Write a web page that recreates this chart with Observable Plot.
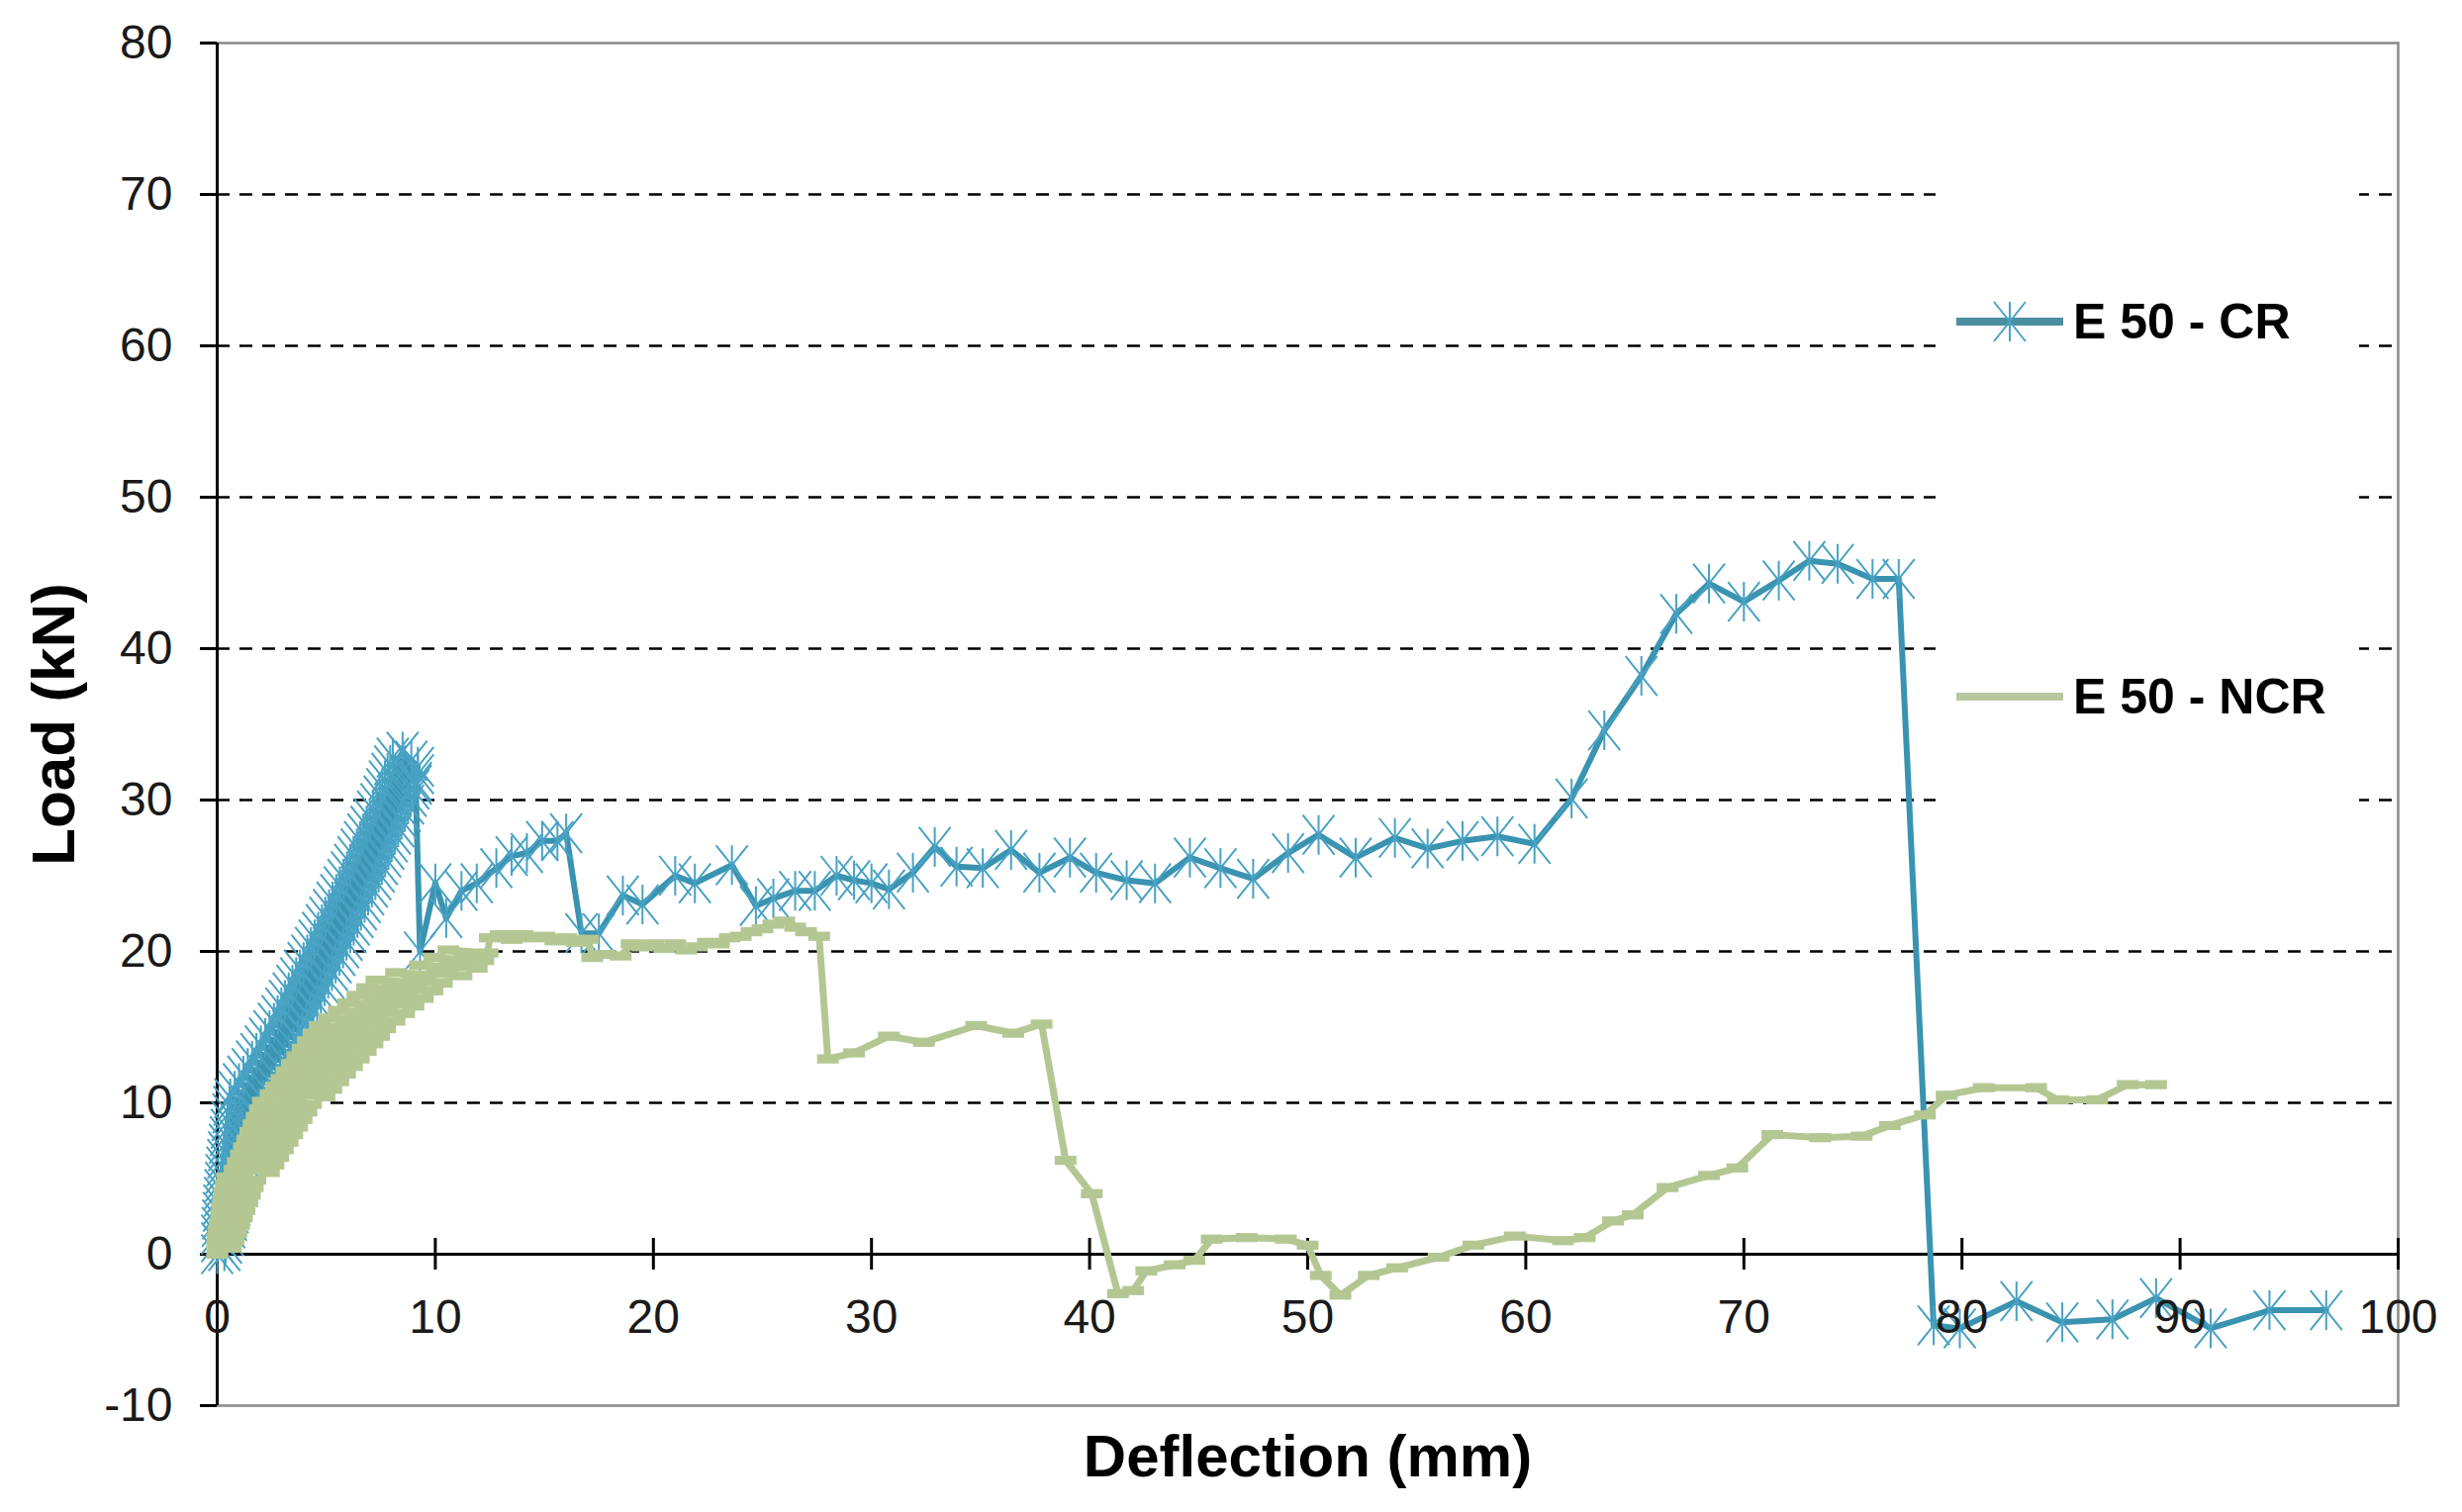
<!DOCTYPE html>
<html>
<head>
<meta charset="utf-8">
<script src="https://cdn.jsdelivr.net/npm/d3@7"></script>
<script src="https://cdn.jsdelivr.net/npm/@observablehq/plot@0.6"></script>
<style>
  html, body { margin: 0; padding: 0; background: #fff; }
  #wrap { position: relative; width: 2488px; height: 1528px; overflow: hidden; font-family: "Liberation Sans", Arial, sans-serif; }
  #legend { position: absolute; left: 1956px; top: 150px; width: 428px; height: 730px; background: #fff; }
  .lg-row { position: absolute; left: 0; height: 60px; display: flex; align-items: center; }
  .lg-row svg { display: block; }
  .lg-row span { font-weight: bold; font-size: 50px; color: #000; margin-left: 10px; white-space: nowrap; }
</style>
</head>
<body>
<div id="wrap"></div>
<script>
// ---- data (Deflection mm, Load kN) ----
const seriesNames = ["E 50 - CR", "E 50 - NCR"];
const seriesColors = ["#3a93b0", "#b4c793"];
const markerColor = "#48a2c4";

// E 50 - CR : dense cyclic loading band, then post-peak response
const crX = [0,
  0.0, 0.33, 0.0, 0.4, 0.03, 0.48, 0.05, 0.55, 0.08, 0.63, 0.1, 0.7, 0.13, 0.78, 0.15, 0.85, 0.18, 0.93, 0.2, 1.0,
  0.24, 1.09, 0.28, 1.18, 0.32, 1.27, 0.36, 1.36, 0.4, 1.45, 0.44, 1.54, 0.48, 1.63, 0.52, 1.72, 0.56, 1.81, 0.6, 1.9,
  0.8, 2.1, 1.0, 2.3, 1.2, 2.5, 1.4, 2.7, 1.6, 2.9, 1.8, 3.1, 2.0, 3.3, 2.2, 3.5, 2.4, 3.7, 2.6, 3.9,
  2.77, 4.07, 2.94, 4.24, 3.11, 4.41, 3.28, 4.58, 3.45, 4.75, 3.62, 4.92, 3.79, 5.09, 3.96, 5.26, 4.13, 5.43, 4.3, 5.6,
  4.47, 5.77, 4.63, 5.93, 4.8, 6.1, 4.96, 6.26, 5.13, 6.43, 5.29, 6.59, 5.46, 6.76, 5.62, 6.92, 5.79, 7.09, 5.95, 7.25,
  6.1, 7.4, 6.25, 7.55, 6.4, 7.7, 6.55, 7.85, 6.7, 8.0, 6.85, 8.15, 7.0, 8.3, 7.15, 8.45, 7.3, 8.6, 7.45, 8.75,
  7.57, 8.87, 7.69, 8.99, 7.81, 9.11, 7.93, 9.2, 8.05, 9.2,
  8.5, 8.9, 9.1, 9.3,
  10.0, 10.5, 11.2, 11.9, 12.8, 13.5, 14.2, 14.9, 15.6, 16.0, 16.7, 17.5, 18.6, 19.5, 21.0, 21.9, 23.6, 24.7,
  25.5, 26.5, 27.4, 28.4, 29.2, 30.0, 30.8, 31.9, 32.9, 33.9, 35.1, 36.4, 37.7, 39.1, 40.3, 41.7, 43.0, 44.6,
  46.0, 47.5, 49.1, 50.5, 52.2, 54.0, 55.5, 57.1, 58.7, 60.4, 62.1, 63.6, 65.3, 66.9, 68.4, 70.0, 71.6, 73.0,
  74.3, 75.9, 77.1, 78.7, 79.9, 82.5, 84.6, 86.9, 88.9, 91.4, 94.1, 96.7];
const crY = [0,
  0.8, 0.2, 1.3, 0.7, 1.8, 1.2, 2.3, 1.7, 2.8, 2.2, 3.3, 2.7, 3.8, 3.2, 4.3, 3.7, 4.8, 4.2, 5.3, 4.7,
  5.8, 5.2, 6.3, 5.7, 6.8, 6.2, 7.3, 6.7, 7.8, 7.2, 8.3, 7.7, 8.8, 8.2, 9.3, 8.7, 9.8, 9.2, 10.3, 9.7,
  10.8, 10.2, 11.3, 10.7, 11.8, 11.2, 12.3, 11.7, 12.8, 12.2, 13.3, 12.7, 13.8, 13.2, 14.3, 13.7, 14.8, 14.2, 15.3, 14.7,
  15.8, 15.2, 16.3, 15.7, 16.8, 16.2, 17.3, 16.7, 17.8, 17.2, 18.3, 17.7, 18.8, 18.2, 19.3, 18.7, 19.8, 19.2, 20.3, 19.7,
  20.8, 20.2, 21.3, 20.7, 21.8, 21.2, 22.3, 21.7, 22.8, 22.2, 23.3, 22.7, 23.8, 23.2, 24.3, 23.7, 24.8, 24.2, 25.3, 24.7,
  25.8, 25.2, 26.3, 25.7, 26.8, 26.2, 27.3, 26.7, 27.8, 27.2, 28.3, 27.7, 28.8, 28.2, 29.3, 28.7, 29.8, 29.2, 30.3, 29.7,
  30.8, 30.2, 31.3, 30.7, 31.8, 31.2, 32.3, 31.7, 32.8, 32.2,
  33.2, 32.6, 31.0, 20.0,
  24.5, 22.2, 24.0, 24.5, 25.5, 26.3, 26.5, 27.3, 27.3, 27.8, 21.2, 21.2, 23.7, 23.1, 25.0, 24.5, 25.7, 23.0,
  23.5, 24.0, 24.0, 25.0, 24.7, 24.5, 24.1, 25.2, 26.9, 25.6, 25.5, 26.7, 25.2, 26.2, 25.2, 24.7, 24.5, 26.2,
  25.5, 24.8, 26.5, 27.7, 26.2, 27.5, 26.8, 27.3, 27.6, 27.1, 30.1, 34.6, 38.2, 42.3, 44.3, 43.1, 44.5, 45.8,
  45.6, 44.6, 44.6, -4.7, -4.9, -3.1, -4.5, -4.3, -2.9, -4.9, -3.7, -3.7];

// E 50 - NCR
const ncrX = [0,
  0.0, 0.63, 0.01, 0.75, 0.07, 0.88, 0.12, 1.0, 0.18, 1.13, 0.23, 1.25, 0.29, 1.38, 0.34, 1.5, 0.4, 1.63, 0.45, 1.75,
  0.8, 2.37, 0.94, 2.58, 1.09, 2.8, 1.23, 3.01, 1.38, 3.23, 1.52, 3.44, 1.67, 3.66, 1.81, 3.87, 1.96, 4.09, 2.1, 4.3,
  2.45, 4.92, 2.69, 5.23, 2.94, 5.55, 3.18, 5.86, 3.43, 6.18, 3.67, 6.49, 3.92, 6.81, 4.16, 7.12, 4.42, 7.42, 4.7, 7.7,
  5.13, 8.13, 5.57, 8.57, 6.0, 9.0, 6.43, 9.43, 6.87, 9.87, 7.3, 10.3, 8.2, 11.2, 9.3, 11.9, 9.95, 12.2, 10.6, 12.4,
  12.5, 13.0, 13.5, 14.0, 14.5, 15.0, 15.5, 16.0, 16.5, 17.0, 17.2, 17.8, 18.5, 19.0, 19.5, 20.0, 20.5, 21.0,
  21.5, 22.0, 22.5, 23.0, 23.5, 24.0, 24.5, 25.0, 25.5, 26.0, 26.5, 27.0, 27.6,
  28.0, 29.2, 30.8, 32.4, 34.8, 36.5, 37.8, 38.9, 40.1, 41.3, 42.0, 42.6, 43.9, 44.8, 45.6, 47.2, 49.0, 50.0,
  50.6, 51.5, 52.8, 54.1, 56.0, 57.6, 59.5, 61.7, 62.7, 64.0, 64.9, 66.5, 68.4, 69.7, 71.3, 73.5, 75.4, 76.7,
  78.3, 79.3, 81.0, 83.4, 84.4, 86.2, 87.6, 88.9];
const ncrY = [0,
  0.6, 0.4, 1.1, 0.9, 1.6, 1.4, 2.1, 1.9, 2.6, 2.4, 3.1, 2.9, 3.6, 3.4, 4.1, 3.9, 4.6, 4.4, 5.1, 4.9,
  5.6, 5.4, 6.1, 5.9, 6.6, 6.4, 7.1, 6.9, 7.6, 7.4, 8.1, 7.9, 8.6, 8.4, 9.1, 8.9, 9.6, 9.4, 10.1, 9.9,
  10.6, 10.4, 11.1, 10.9, 11.6, 11.4, 12.1, 11.9, 12.6, 12.4, 13.1, 12.9, 13.6, 13.4, 14.1, 13.9, 14.6, 14.4, 15.1, 14.9,
  15.6, 15.4, 16.1, 15.9, 16.6, 16.4, 17.1, 16.9, 17.6, 17.4, 18.1, 17.9, 18.6, 18.4, 19.1, 18.9, 19.6, 19.4, 20.1, 19.9,
  20.9, 21.1, 20.8, 21.1, 20.9, 21.0, 20.7, 20.9, 20.6, 20.8, 19.6, 19.8, 19.7, 20.5, 20.3, 20.5, 20.2, 20.5,
  20.1, 20.3, 20.6, 20.5, 20.9, 21.0, 21.3, 21.5, 21.8, 22.0, 21.6, 21.3, 21.0,
  12.9, 13.3, 14.4, 14.0, 15.1, 14.6, 15.2, 6.2, 4.0, -2.6, -2.4, -1.1, -0.7, -0.4, 1.0, 1.1, 1.0, 0.6,
  -1.4, -2.7, -1.4, -0.9, -0.2, 0.6, 1.2, 0.9, 1.1, 2.2, 2.6, 4.4, 5.2, 5.7, 7.9, 7.7, 7.8, 8.5,
  9.2, 10.5, 11.0, 11.0, 10.2, 10.2, 11.2, 11.2];

const xTicks = [0, 10, 20, 30, 40, 50, 60, 70, 80, 90, 100];
const yTicks = [-10, 0, 10, 20, 30, 40, 50, 60, 70, 80];
const xTitle = "Deflection (mm)";
const yTitle = "Load (kN)";

// ---- build ----
const cr = crX.map((x, i) => ({x, y: crY[i]}));
const ncr = ncrX.map((x, i) => ({x, y: ncrY[i]}));

const asterisk = {
  draw(ctx, size) {
    const r = Math.sqrt(size / Math.PI);
    ctx.moveTo(0, -r); ctx.lineTo(0, r);
    ctx.moveTo(-0.8 * r, -r); ctx.lineTo(0.8 * r, r);
    ctx.moveTo(-0.8 * r, r); ctx.lineTo(0.8 * r, -r);
  }
};
const dash = {
  draw(ctx, size) {
    const r = Math.sqrt(size / Math.PI);
    ctx.rect(-r, -0.42 * r, 2 * r, 0.84 * r);
  }
};

const font = '"Liberation Sans", Arial, sans-serif';

const chart = Plot.plot({
  width: 2488,
  height: 1528,
  marginLeft: 219,
  marginRight: 65,
  marginTop: 43,
  marginBottom: 108,
  x: {domain: [0, 100], axis: null},
  y: {domain: [-10, 80], axis: null},
  style: {fontFamily: font, background: "#fff", color: "#1a1a1a", overflow: "visible"},
  marks: [
    Plot.ruleY(yTicks.filter(t => t > -10 && t < 80 && t !== 0), {stroke: "#000", strokeWidth: 2.6, strokeDasharray: "13,10"}),
    Plot.frame({stroke: "#8c8c8c", strokeWidth: 2.6}),
    Plot.ruleY([0], {stroke: "#000", strokeWidth: 3}),
    Plot.ruleX([0], {stroke: "#000", strokeWidth: 3}),
    Plot.ruleX(xTicks.filter(t => t > 0), {x: d => d, y1: 0, y2: 0, insetTop: -16, insetBottom: -16, stroke: "#000", strokeWidth: 3}),
    Plot.axisY({ticks: yTicks, tickFormat: d => String(d), tickSize: 17, tickPadding: 28, fontSize: 48, label: null, stroke: "#000", strokeWidth: 3}),
    // E 50 - CR
    Plot.line(cr, {x: "x", y: "y", stroke: seriesColors[0], strokeWidth: 6, strokeLinejoin: "round"}),
    Plot.dot(cr, {x: "x", y: "y", symbol: asterisk, r: 20, stroke: markerColor, strokeWidth: 2, fill: "none"}),
    // E 50 - NCR
    Plot.line(ncr, {x: "x", y: "y", stroke: seriesColors[1], strokeWidth: 7, strokeLinejoin: "round"}),
    Plot.dot(ncr, {x: "x", y: "y", symbol: dash, r: 11, fill: seriesColors[1], stroke: "none"}),
    // x tick labels on the zero line
    Plot.text(xTicks, {x: d => d, y: 0, dy: 64, text: d => String(d), fontSize: 48, fill: "#1a1a1a", lineAnchor: "middle"}),
    // axis titles
    Plot.text([xTitle], {frameAnchor: "bottom", dy: 52, text: d => d, fontSize: 60, fontWeight: "bold", fill: "#000", textAnchor: "middle", lineAnchor: "middle"}),
    Plot.text([yTitle], {frameAnchor: "left", dx: -164, rotate: -90, text: d => d, fontSize: 62, fontWeight: "bold", fill: "#000", textAnchor: "middle", lineAnchor: "middle"})
  ]
});

const wrap = document.getElementById("wrap");
wrap.appendChild(chart);

// legend
const legend = document.createElement("div");
legend.id = "legend";
const rowsY = [175, 554];
seriesNames.forEach((name, i) => {
  const row = document.createElement("div");
  row.className = "lg-row";
  row.style.top = (rowsY[i] - 30) + "px";
  row.style.left = "21px";
  const sw = d3.create("svg").attr("width", 108).attr("height", 60);
  sw.append("line").attr("x1", 0).attr("x2", 108).attr("y1", 30).attr("y2", 30)
    .attr("stroke", i === 0 ? "#4b8e9e" : "#b9c79f").attr("stroke-width", 8);
  if (i === 0) {
    const g = sw.append("g").attr("stroke", markerColor).attr("stroke-width", 2).attr("fill", "none");
    g.append("path").attr("d", d3.symbol(asterisk, Math.PI * 20 * 20)()).attr("transform", "translate(54,30)");
  }
  row.appendChild(sw.node());
  const t = document.createElement("span");
  t.textContent = name;
  row.appendChild(t);
  legend.appendChild(row);
});
wrap.appendChild(legend);
</script>
</body>
</html>
